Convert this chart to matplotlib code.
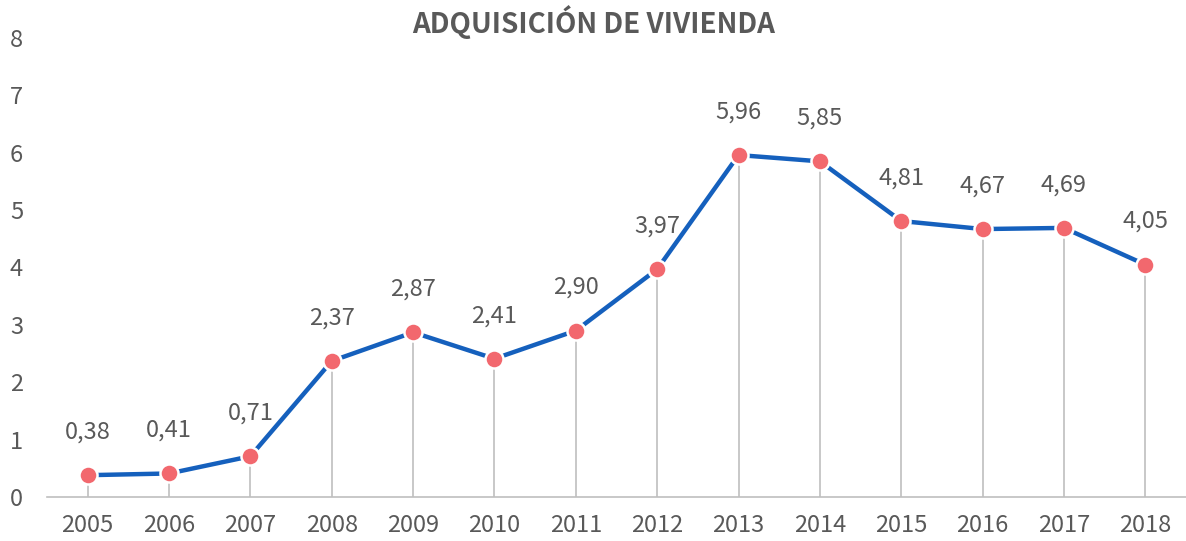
import matplotlib
matplotlib.use("Agg")
import matplotlib.pyplot as plt

years = ["2005", "2006", "2007", "2008", "2009", "2010", "2011",
         "2012", "2013", "2014", "2015", "2016", "2017", "2018"]
values = [0.38, 0.41, 0.71, 2.37, 2.87, 2.41, 2.90,
          3.97, 5.96, 5.85, 4.81, 4.67, 4.69, 4.05]

plt.rcParams['font.family'] = ['Noto Sans CJK JP', 'DejaVu Sans']

text_color = "#595959"
line_color = "#1560BD"
marker_color = "#F2686E"

fig = plt.figure(figsize=(11.86, 5.41), dpi=100)
ax = fig.add_axes([47 / 1186, 1 - 497 / 541, 1 - 47 / 1186, (497 - 38) / 541])

x = list(range(len(years)))
ax.vlines(x, 0, values, color="#BFBFBF", lw=1.2, zorder=1)
ax.plot(x, values, color=line_color, lw=3.2, zorder=2, solid_capstyle="butt")
ax.plot(x, values, ls="none", marker="o", ms=13, mfc=marker_color,
        mec="white", mew=1.8, zorder=3)

for xi, v in zip(x, values):
    ax.annotate(f"{v:.2f}".replace(".", ","), (xi, v), xytext=(0, 31),
                textcoords="offset points", ha="center", va="center",
                fontsize=17, color=text_color)

ax.set_xlim(-0.5, len(years) - 0.5)
ax.set_ylim(0, 8)
ax.set_yticks(range(0, 9))
ax.set_xticks(x)
ax.set_xticklabels(years)
ax.tick_params(axis="both", length=0, labelsize=17, labelcolor=text_color)
ax.tick_params(axis="x", pad=12)
ax.tick_params(axis="y", pad=0)
for lbl in ax.get_yticklabels():
    lbl.set_horizontalalignment("left")
    lbl.set_x(-37 / 1139)

for side in ["top", "right", "left"]:
    ax.spines[side].set_visible(False)
ax.spines["bottom"].set_color("#BFBFBF")
ax.spines["bottom"].set_linewidth(1.2)

fig.text(594 / 1186, 1 - 22 / 541, "ADQUISICIÓN DE VIVIENDA", ha="center",
         va="center", fontsize=20, fontweight="bold", color=text_color)

fig.savefig("out.png", dpi=100)
